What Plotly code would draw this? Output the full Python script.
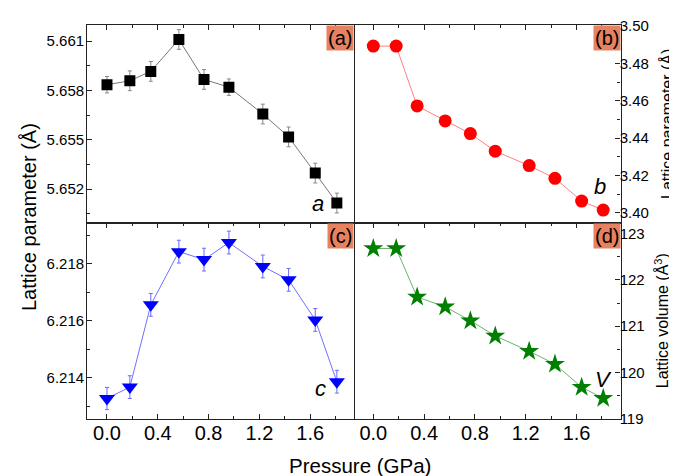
import plotly.graph_objects as go

# ---- data ----
pressure = [0.0, 0.18, 0.345, 0.566, 0.764, 0.96, 1.227, 1.43, 1.64, 1.81]
a_vals = [5.65835, 5.65859, 5.65916, 5.66110, 5.65867, 5.65820, 5.65657, 5.65518, 5.65298, 5.65116]
a_err = [0.0005, 0.0006, 0.0006, 0.0006, 0.0006, 0.0005, 0.0006, 0.0006, 0.0006, 0.0006]
b_vals = [3.4892, 3.4892, 3.4572, 3.4492, 3.4424, 3.4330, 3.4253, 3.4185, 3.4063, 3.4015]
c_vals = [6.21327, 6.21367, 6.21656, 6.21843, 6.21815, 6.21875, 6.21791, 6.21744, 6.21603, 6.21386]
c_err = [0.00039, 0.0004, 0.0004, 0.0004, 0.0004, 0.0004, 0.0004, 0.0004, 0.0004, 0.0004]
v_vals = [122.68, 122.68, 121.63, 121.42, 121.12, 120.79, 120.46, 120.18, 119.68, 119.44]
x_ticks = [0.0, 0.4, 0.8, 1.2, 1.6]
x_ticktext = ["0.0", "0.4", "0.8", "1.2", "1.6"]

W, H = 677, 476
FONT = "Arial, Liberation Sans, sans-serif"

def px(x):
    return x / W

def py(y):
    return 1 - y / H

left_dom = [px(79.3), px(346)]
right_dom = [px(346.5), px(612.5)]
top_dom = [py(213.8), py(9.3)]
bot_dom = [py(416.7), py(213.8)]

fig = go.Figure()

fig.add_trace(go.Scatter(
    x=pressure, y=a_vals, mode="lines+markers",
    line=dict(color="#777777", width=1),
    marker=dict(symbol="square", size=11, color="black"),
    error_y=dict(type="data", array=a_err, color="#888888", thickness=1, width=2),
    xaxis="x", yaxis="y", showlegend=False))

fig.add_trace(go.Scatter(
    x=pressure, y=b_vals, mode="lines+markers",
    line=dict(color="#ff8080", width=1),
    marker=dict(symbol="circle", size=13, color="#ff0000"),
    xaxis="x2", yaxis="y2", showlegend=False))

fig.add_trace(go.Scatter(
    x=pressure, y=c_vals, mode="lines+markers",
    line=dict(color="#7070ff", width=1),
    marker=dict(symbol="triangle-down", size=14, color="#0000ff"),
    error_y=dict(type="data", array=c_err, color="#6a6aff", thickness=1, width=2),
    xaxis="x3", yaxis="y3", showlegend=False))

fig.add_trace(go.Scatter(
    x=pressure, y=v_vals, mode="lines+markers",
    line=dict(color="#70b070", width=1),
    marker=dict(symbol="star", size=15, color="#008000"),
    xaxis="x4", yaxis="y4", showlegend=False))

axcommon = dict(showline=True, linecolor="#222222", linewidth=1.3, showgrid=False,
                zeroline=False, ticks="inside", ticklen=5, tickwidth=1, tickcolor="#222222")

def xaxis(dom, rng, anchor, top):
    d = dict(axcommon)
    d.update(domain=dom, range=rng, anchor=anchor,
             tickvals=x_ticks, ticktext=x_ticktext,
             minor=dict(tickvals=[0.2, 0.6, 1.0, 1.4, 1.8], ticks="inside", ticklen=3,
                        tickcolor="#222222", tickwidth=1),
             tickfont=dict(family=FONT, size=20, color="black"))
    if top:
        d.update(side="top", showticklabels=False, mirror=True)
    else:
        d.update(side="bottom", mirror="ticks", ticklabelstandoff=-4)
    return d

def yaxis(dom, rng, anchor, side, tick0, dtick, mdt, fmt, title=None):
    d = dict(axcommon)
    d.update(domain=dom, range=rng, anchor=anchor, side=side, mirror=True,
             tick0=tick0, dtick=dtick, tickformat=fmt,
             minor=dict(tick0=tick0, dtick=mdt, ticks="inside", ticklen=3,
                        tickcolor="#222222", tickwidth=1),
             tickfont=dict(family=FONT, size=15, color="black"),
             ticklabelstandoff=(-1 if side == "left" else -5))
    if title:
        d.update(title=dict(text=title, standoff=13,
                            font=dict(family=FONT, size=16, color="black")))
    return d

LR = [-0.155, 1.945]
RR = [-0.148, 1.946]

fig.update_layout(
    width=W, height=H, margin=dict(l=0, r=0, t=0, b=0),
    paper_bgcolor="white", plot_bgcolor="white",
    xaxis=xaxis(left_dom, LR, "y", True),
    xaxis2=xaxis(right_dom, RR, "y2", True),
    xaxis3=xaxis(left_dom, LR, "y3", False),
    xaxis4=xaxis(right_dom, RR, "y4", False),
    yaxis=yaxis(top_dom, [5.64997, 5.66198], "x", "left", 5.652, 0.003, 0.0015, ".3f"),
    yaxis2=yaxis(top_dom, [3.3948, 3.5005], "x2", "right", 3.40, 0.02, 0.01, ".2f",
                 "Lattice parameter (Å)"),
    yaxis3=yaxis(bot_dom, [6.21256, 6.21945], "x3", "left", 6.214, 0.002, 0.001, ".3f"),
    yaxis4=yaxis(bot_dom, [119, 123.24], "x4", "right", 119, 1, 0.5, "d",
                 "Lattice volume (Å<sup>3</sup>)"),
)

# panel label boxes
for lab, xr, yr in [("(a)", "x", "y"), ("(b)", "x2", "y2"), ("(c)", "x3", "y3"), ("(d)", "x4", "y4")]:
    fig.add_annotation(text=lab, xref=xr + " domain", yref=yr + " domain", x=1, y=1,
                       xanchor="right", yanchor="top", showarrow=False,
                       bgcolor="#e8815f", borderpad=1,
                       font=dict(family=FONT, size=20, color="black"))

# italic series letters
for lab, xr, yr, xx, yy in [("a", "x", "y", 0.865, 0.097), ("b", "x2", "y2", 0.922, 0.181),
                            ("c", "x3", "y3", 0.876, 0.156), ("V", "x4", "y4", 0.937, 0.202)]:
    fig.add_annotation(text="<i>" + lab + "</i>", xref=xr + " domain", yref=yr + " domain",
                       x=xx, y=yy, xanchor="center", yanchor="middle", showarrow=False,
                       font=dict(family=FONT, size=22, color="black"))

# shared axis titles
fig.add_annotation(text="Lattice parameter (Å)", xref="paper", yref="paper",
                   x=px(21), y=py(208), textangle=-90, showarrow=False,
                   xanchor="center", yanchor="middle",
                   font=dict(family=FONT, size=20, color="black"))
fig.add_annotation(text="Pressure (GPa)", xref="paper", yref="paper",
                   x=px(351.7), y=py(465), showarrow=False,
                   xanchor="center", yanchor="middle",
                   font=dict(family=FONT, size=20.5, color="black"))

fig.write_html("out.html")
